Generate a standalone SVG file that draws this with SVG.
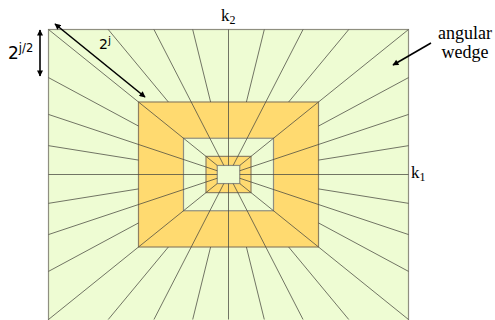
<svg xmlns="http://www.w3.org/2000/svg" width="495" height="320" viewBox="0 0 495 320">
<style>
.g{fill:#eefcd3;stroke:#8f8f80;stroke-width:1.2}
.o{fill:#ffda70;stroke:#8f8060;stroke-width:1.2}
.ray{stroke:#4a4a40;stroke-width:0.9;stroke-opacity:0.85;fill:none}
.arr{stroke:#000;stroke-width:1.6;fill:none}
.serif{font-family:"Liberation Serif","Times New Roman",serif;fill:#000}
.sans{font-family:"DejaVu Sans",Verdana,sans-serif;fill:#000}
</style>
<defs>
<marker id="ah" viewBox="0 0 10 10" refX="9" refY="5" markerWidth="7" markerHeight="6" markerUnits="userSpaceOnUse" orient="auto-start-reverse">
<path d="M0,0 L10,5 L0,10 z" fill="#000"/>
</marker>
</defs>
<g id="wedge-plane">
<rect id="ring0" class="g" x="48.5" y="29.5" width="360" height="295"/>
<rect id="ring1" class="o" x="138.5" y="102" width="180" height="145"/>
<rect id="ring2" class="g" x="183.5" y="138.25" width="90" height="72.5"/>
<rect id="ring3" class="o" x="206" y="156.375" width="45" height="36.25"/>
<rect id="lowpass" class="g" x="217.25" y="165.44" width="22.5" height="18.12"/>
</g>
<g id="connectors">
<path class="ray" d="M48.5,29.5L217.25,165.44 M153.94,29.5L223.84,165.44 M228.5,29.5L228.5,165.44 M303.06,29.5L233.16,165.44 M408.5,29.5L239.75,165.44
M108.23,29.5L168.36,102 M192.7,29.5L210.6,102 M264.3,29.5L246.4,102 M348.77,29.5L288.64,102
M48.5,319.5L217.25,183.56 M153.94,319.5L223.84,183.56 M228.5,319.5L228.5,183.56 M303.06,319.5L233.16,183.56 M408.5,319.5L239.75,183.56
M108.23,319.5L168.36,247 M192.7,319.5L210.6,247 M264.3,319.5L246.4,247 M348.77,319.5L288.64,247
M48.5,114.44L217.25,170.75 M48.5,174.5L217.25,174.5 M48.5,234.56L217.25,178.25
M48.5,77.61L138.5,126.06 M48.5,145.66L138.5,160.08 M48.5,203.34L138.5,188.92 M48.5,271.39L138.5,222.94
M408.5,114.44L239.75,170.75 M408.5,174.5L239.75,174.5 M408.5,234.56L239.75,178.25
M408.5,77.61L318.5,126.06 M408.5,145.66L318.5,160.08 M408.5,203.34L318.5,188.92 M408.5,271.39L318.5,222.94"/>
<line id="arrow-height" class="arr" x1="40" y1="30" x2="40" y2="76" marker-start="url(#ah)" marker-end="url(#ah)"/>
<line id="arrow-length" class="arr" x1="55" y1="24" x2="145" y2="97" marker-start="url(#ah)" marker-end="url(#ah)"/>
<line id="arrow-wedge" class="arr" x1="431" y1="43" x2="393" y2="65" marker-end="url(#ah)"/>
</g>
<g id="labels">
<text class="sans" x="8" y="59" font-size="17">2<tspan font-size="11.5" dy="-7">j/2</tspan></text>
<text class="sans" x="99" y="49" font-size="14">2<tspan font-size="11" dy="-5">j</tspan></text>
<text class="serif" x="221" y="21" font-size="17">k<tspan font-size="12" dy="3">2</tspan></text>
<text class="serif" x="411" y="178" font-size="17">k<tspan font-size="12" dy="3">1</tspan></text>
<text class="serif" x="465" y="39" font-size="18" text-anchor="middle">angular</text>
<text class="serif" x="465" y="58" font-size="18" text-anchor="middle">wedge</text>
</g>
</svg>
